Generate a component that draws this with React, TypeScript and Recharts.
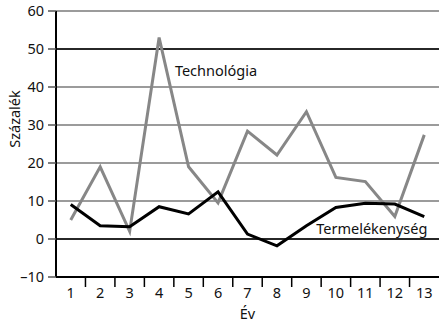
import { LineChart, Line, XAxis, YAxis, CartesianGrid, ReferenceLine, ReferenceDot } from 'recharts';

const years = [1, 2, 3, 4, 5, 6, 7, 8, 9, 10, 11, 12, 13];
const technologia = [5, 19, 2, 53, 19, 9.5, 28.4, 22.1, 33.5, 16.2, 15.1, 5.9, 27.4];
const termelekenyseg = [9.1, 3.5, 3.2, 8.5, 6.6, 12.4, 1.3, -1.8, 3.5, 8.3, 9.4, 9.2, 5.9];
const yTicks = [-10, 0, 10, 20, 30, 40, 50, 60];
// labels at whole years, tick marks between them
const xTicks = [1, 1.5, 2, 2.5, 3, 3.5, 4, 4.5, 5, 5.5, 6, 6.5, 7, 7.5, 8, 8.5, 9, 9.5, 10, 10.5, 11, 11.5, 12, 12.5, 13];

const data = years.map((y, i) => ({ year: y, tech: technologia[i], term: termelekenyseg[i] }));

const FONT = '"Noto Sans", sans-serif';
const FS = 14.5;

const XTick = (props: any) => {
  const { x, y, payload } = props;
  if (payload.value % 1 !== 0) {
    return <line x1={x} x2={x} y1={y} y2={y + 10} stroke="#000" strokeWidth={1.5} />;
  }
  return (
    <text x={x} y={y + 21} textAnchor="middle" fontSize={FS} fontFamily={FONT} fill="#111">
      {payload.value}
    </text>
  );
};

export default function App() {
  return (
    <div style={{ position: 'absolute', left: 0, top: 0, background: '#fff' }}>
      <LineChart width={439} height={326} data={data} margin={{ top: 11, right: 0, left: 0, bottom: 0 }}>
        <CartesianGrid vertical={false} stroke="#7a7a7a" strokeWidth={1.5} />
        <XAxis
          dataKey="year"
          type="number"
          domain={[0.5, 13.5]}
          ticks={xTicks}
          interval={0}
          tickLine={false}
          tickSize={0}
          tickMargin={0}
          tick={<XTick />}
          axisLine={{ stroke: '#000', strokeWidth: 2 }}
          height={49}
          label={{ value: 'Év', position: 'insideBottom', offset: 7, fontSize: FS, fontFamily: FONT, fill: '#111' }}
        />
        <YAxis
          domain={[-10, 60]}
          ticks={yTicks}
          interval={0}
          width={56}
          tickSize={8}
          tickMargin={4}
          tickLine={{ stroke: '#555', strokeWidth: 1.5 }}
          axisLine={{ stroke: '#000', strokeWidth: 2 }}
          tick={{ fontSize: FS, fontFamily: FONT, fill: '#111' }}
          tickFormatter={(v: number) => (v < 0 ? `\u2013${Math.abs(v)}` : `${v}`)}
          label={{
            content: () => (
              <text x={16} y={119} transform="rotate(-90 16 119)" textAnchor="middle" dominantBaseline="middle" fontSize={FS} fontFamily={FONT} fill="#111">
                Százalék
              </text>
            ),
          }}
        />
        <ReferenceLine y={0} stroke="#000" strokeWidth={1.5} />
        <ReferenceLine y={50} stroke="#000" strokeWidth={1.5} />
        <Line dataKey="tech" stroke="#878787" strokeWidth={3} dot={false} isAnimationActive={false} strokeLinejoin="miter" />
        <Line dataKey="term" stroke="#000" strokeWidth={3} dot={false} isAnimationActive={false} strokeLinejoin="miter" />
        <ReferenceDot x={5.93} y={44.2} r={0} stroke="none" fill="none"
          label={{ value: 'Technológia', position: 'center', fontSize: FS, fontFamily: FONT, fill: '#111' }} />
        <ReferenceDot x={11.22} y={2.6} r={0} stroke="none" fill="none"
          label={{ value: 'Termelékenység', position: 'center', fontSize: FS, fontFamily: FONT, fill: '#111' }} />
      </LineChart>
    </div>
  );
}
